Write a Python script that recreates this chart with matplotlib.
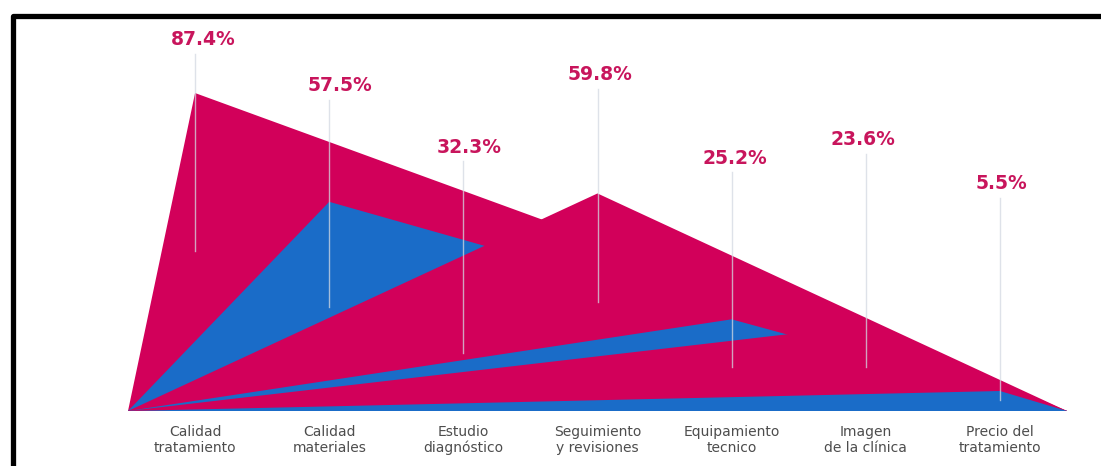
import matplotlib
matplotlib.use('Agg')
import matplotlib.pyplot as plt
from matplotlib.lines import Line2D

categories = ['Calidad\ntratamiento', 'Calidad\nmateriales', 'Estudio\ndiagnóstico',
              'Seguimiento\ny revisiones', 'Equipamiento\ntecnico', 'Imagen\nde la clínica',
              'Precio del\ntratamiento']
values = [87.4, 57.5, 32.3, 59.8, 25.2, 23.6, 5.5]
fill_colors = ['#d2005a', '#1a6cc8', '#d2005a', '#d2005a', '#1a6cc8', '#d2005a', '#1a6cc8']

# where the % labels and their thin leader lines sit (in % units)
label_y = [102, 89.5, 72.5, 92.5, 69.5, 74.5, 62.5]
label_dx = [6, 8, 4, 2, 2, -2, 1]  # small sideways nudge of the labels, in points
leader_bottom = [44, 28.5, 16, 30, 12, 12, 3]

W, H = 1101, 466
px_per_pct = 3.638

fig = plt.figure(figsize=(W / 100, H / 100), dpi=100)
ax = fig.add_axes([128 / W, 55 / H, 939 / W, 400 / H])
ax.set_xlim(-0.5, 6.5)
ax.set_ylim(0, 400 / px_per_pct)
ax.axis('off')

# every category is a triangle from the left corner to the right corner,
# later ones drawn over the earlier ones
for i, (v, c) in enumerate(zip(values, fill_colors)):
    ax.fill([-0.5, i, 6.5], [0, v, 0], color=c, lw=0, zorder=i + 1)

for i, v in enumerate(values):
    ax.plot([i, i], [leader_bottom[i], label_y[i] - 3.9], color='#d3d9e2',
            lw=1, alpha=0.75, zorder=20)
    ax.annotate(f'{v}%', xy=(i, label_y[i]), xytext=(label_dx[i], 0),
                textcoords='offset points', ha='center', va='center', fontsize=13.5,
                fontweight='bold', color='#c8155c', annotation_clip=False, zorder=21)
    ax.annotate(categories[i], xy=(i, 0), xytext=(0, -10), textcoords='offset points',
                ha='center', va='top', fontsize=10, color='#4d4d4d', linespacing=1.15)

# black frame, top and left only
fig.add_artist(Line2D([12.5 / W, 12.5 / W, 1.0], [0.0, 1 - 15.5 / H, 1 - 15.5 / H],
                      transform=fig.transFigure, color='black', lw=3.8,
                      solid_joinstyle='round'))

fig.savefig('out.png', dpi=100)
